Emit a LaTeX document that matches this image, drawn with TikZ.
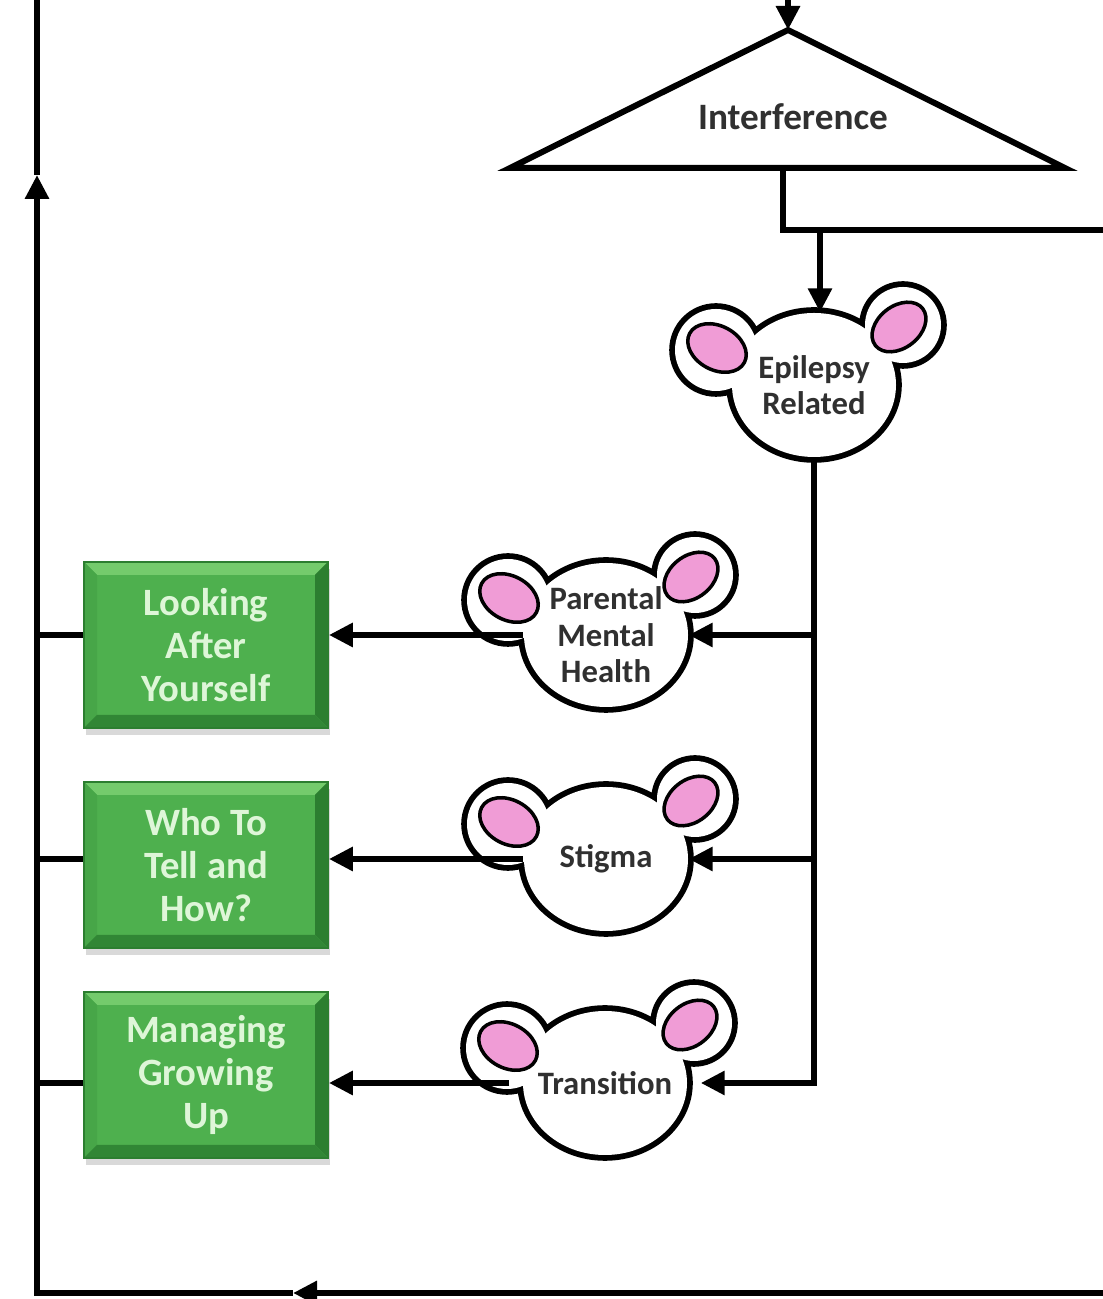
\documentclass[tikz,border=0pt]{standalone}
\usepackage{fontspec}
\setmainfont{Carlito}
\usetikzlibrary{arrows.meta, calc, shapes.geometric, shadows}

\definecolor{earpink}{RGB}{240,156,214}
\definecolor{boxgreen}{RGB}{78,176,78}
\definecolor{boxlight}{RGB}{116,203,108}
\definecolor{boxdark}{RGB}{44,126,48}
\definecolor{boxtext}{RGB}{222,246,216}
\definecolor{inktext}{RGB}{48,48,48}

\tikzset{
  wire/.style={line width=1.7pt},
  flow/.style={line width=1.7pt, -{Triangle[length=0.24cm, width=0.23cm]}},
  mousehead/.style={ellipse, minimum width=1.64cm, minimum height=1.44cm,
    inner sep=0pt, align=center, text=inktext,
    font=\bfseries\fontsize{9.3}{10.4}\selectfont},
  greenbox/.style={rectangle, minimum width=2.44cm, minimum height=1.66cm,
    inner sep=0pt, align=center, fill=boxgreen, draw=boxdark, line width=0.5pt,
    text=boxtext, font=\bfseries\fontsize{11}{12.3}\selectfont,
    drop shadow={shadow xshift=0.02cm, shadow yshift=-0.07cm, opacity=0.3},
    path picture={
      \coordinate (bsw) at (path picture bounding box.south west);
      \coordinate (bne) at (path picture bounding box.north east);
      \coordinate (bnw) at (bsw |- bne);
      \coordinate (bse) at (bne |- bsw);
      % bevel
      \fill[boxlight] (bnw) -- (bne) -- ($(bne)+(-0.13,-0.13)$) -- ($(bnw)+(0.13,-0.13)$) -- cycle;
      \fill[boxgreen!80!boxdark] (bnw) -- (bsw) -- ($(bsw)+(0.13,0.13)$) -- ($(bnw)+(0.13,-0.13)$) -- cycle;
      \fill[boxdark] (bne) -- (bse) -- ($(bse)+(-0.13,0.13)$) -- ($(bne)+(-0.13,-0.13)$) -- cycle;
      \fill[boxdark!85!boxgreen] (bsw) -- (bse) -- ($(bse)+(-0.13,0.13)$) -- ($(bsw)+(0.13,0.13)$) -- cycle;
    }}
}

% mouse: outline drawn wide, white fill on top leaves the outer rim
\newcommand{\drawmouse}[3]{%
  \begin{scope}[shift={(#2)}]
    \draw[line width=3.3pt] (-0.98,0.35) circle (0.41) (0.89,0.60) circle (0.38)
      (0,0) ellipse (0.82 and 0.72);
    \fill[white] (-0.98,0.35) circle (0.41) (0.89,0.60) circle (0.38)
      (0,0) ellipse (0.82 and 0.72);
    \filldraw[fill=earpink, line width=1pt, rotate around={-28:(-0.97,0.37)}]
      (-0.97,0.37) ellipse (0.31 and 0.22);
    \filldraw[fill=earpink, line width=1pt, rotate around={38:(0.85,0.58)}]
      (0.85,0.58) ellipse (0.30 and 0.21);
  \end{scope}
  \node[mousehead] (#1) at (#2) {#3};
}

\begin{document}
\begin{tikzpicture}
\useasboundingbox (0,0) rectangle (11.02,12.99);

% Loop corners
\coordinate (inlet) at (7.88,13.2);
\coordinate (apex) at (7.88,12.69);
\coordinate (baseL) at (5.10,11.31);
\coordinate (baseR) at (10.65,11.31);
\coordinate (stem) at (7.83,11.31);
\coordinate (elbow) at (7.83,10.69);
\coordinate (outR) at (11.3,10.69);
\coordinate (drop) at (8.20,10.69);
\coordinate (loopR) at (11.3,0.06);
\coordinate (loopmid) at (2.93,0.06);
\coordinate (loopL) at (0.37,0.06);
\coordinate (spineup) at (0.37,11.24);
\coordinate (spinetop) at (0.37,13.2);

% Triangle
\filldraw[wire, fill=white, line join=miter] (apex) -- (baseR) -- (baseL) -- cycle;
\node[text=inktext, font=\bfseries\fontsize{10.6}{12}\selectfont] (interf) at (7.93,11.82) {Interference};

% Mice
\drawmouse{epi}{8.14,9.14}{Epilepsy\\Related}
\drawmouse{par}{6.06,6.64}{Parental\\Mental\\Health}
\drawmouse{stig}{6.06,4.40}{Stigma}
\drawmouse{trans}{6.05,2.16}{Transition}

% Green boxes
\node[greenbox] (box1) at (2.06,6.54) {Looking\\After\\Yourself};
\node[greenbox] (box2) at (2.06,4.34) {Who To\\Tell and\\How?};
\node[greenbox] (box3) at (2.06,2.24) {Managing\\Growing\\Up};

% Connectors
\draw[flow] (inlet) -- (apex);
\draw[wire] (stem) -- (elbow) -- (outR);
\draw[flow] (drop) -- (drop |- epi.north);
\draw[flow] (epi.south) -- (epi.south |- trans.east) -- (trans.east);
\draw[flow] (epi.south |- par.east) -- (par.east);
\draw[flow] (epi.south |- stig.east) -- (stig.east);

\draw[flow] (par.west) -- (par.west -| box1.east);
\draw[flow] (stig.west) -- (stig.west -| box2.east);
\draw[flow] (trans.west) -- (trans.west -| box3.east);

\draw[wire] (par.west -| box1.west) -- (par.west -| loopL);
\draw[wire] (stig.west -| box2.west) -- (stig.west -| loopL);
\draw[wire] (trans.west -| box3.west) -- (trans.west -| loopL);

% Return loop
\draw[flow] (loopR) -- (loopmid);
\draw[flow] (loopmid) -- (loopL) -- (spineup);
\draw[wire] (spineup) -- (spinetop);

\end{tikzpicture}
\end{document}
